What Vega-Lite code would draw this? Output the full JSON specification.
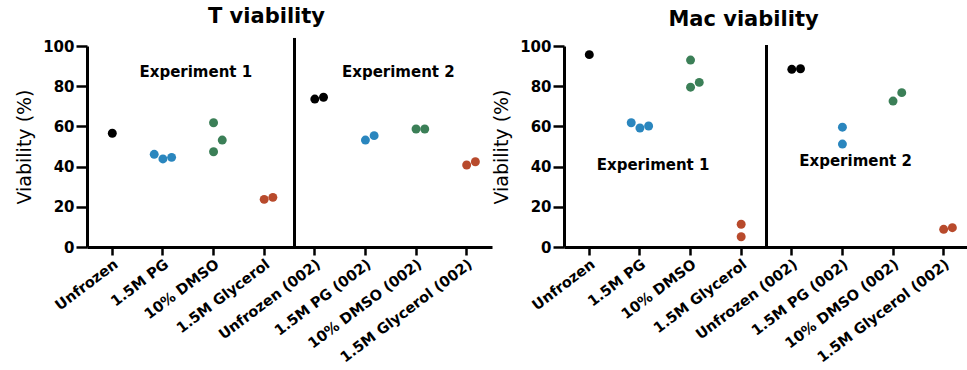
{
  "$schema": "https://vega.github.io/schema/vega-lite/v6.json",
  "background": "white",
  "padding": {"left": 15, "top": 6, "right": 0, "bottom": 0},
  "spacing": 0,
  "datasets": {
    "viability": [
      {"panel": "T", "condition": "Unfrozen", "slot": 0, "viability": 56.6},
      {"panel": "T", "condition": "1.5M PG", "slot": -1, "viability": 46.1},
      {"panel": "T", "condition": "1.5M PG", "slot": 0, "viability": 43.8},
      {"panel": "T", "condition": "1.5M PG", "slot": 1, "viability": 44.6},
      {"panel": "T", "condition": "10% DMSO", "slot": 0, "viability": 61.8},
      {"panel": "T", "condition": "10% DMSO", "slot": 1, "viability": 53.2},
      {"panel": "T", "condition": "10% DMSO", "slot": 0, "viability": 47.4},
      {"panel": "T", "condition": "1.5M Glycerol", "slot": 0, "viability": 23.7},
      {"panel": "T", "condition": "1.5M Glycerol", "slot": 1, "viability": 24.7},
      {"panel": "T", "condition": "Unfrozen (002)", "slot": 0, "viability": 73.6},
      {"panel": "T", "condition": "Unfrozen (002)", "slot": 1, "viability": 74.5},
      {"panel": "T", "condition": "1.5M PG (002)", "slot": 0, "viability": 53.2},
      {"panel": "T", "condition": "1.5M PG (002)", "slot": 1, "viability": 55.4},
      {"panel": "T", "condition": "10% DMSO (002)", "slot": 0, "viability": 58.7},
      {"panel": "T", "condition": "10% DMSO (002)", "slot": 1, "viability": 58.7},
      {"panel": "T", "condition": "1.5M Glycerol (002)", "slot": 0, "viability": 40.8},
      {"panel": "T", "condition": "1.5M Glycerol (002)", "slot": 1, "viability": 42.4},
      {"panel": "Mac", "condition": "Unfrozen", "slot": 0, "viability": 95.7},
      {"panel": "Mac", "condition": "1.5M PG", "slot": -1, "viability": 61.8},
      {"panel": "Mac", "condition": "1.5M PG", "slot": 0, "viability": 59.2},
      {"panel": "Mac", "condition": "1.5M PG", "slot": 1, "viability": 60.2},
      {"panel": "Mac", "condition": "10% DMSO", "slot": 0, "viability": 93.0},
      {"panel": "Mac", "condition": "10% DMSO", "slot": 0, "viability": 79.5},
      {"panel": "Mac", "condition": "10% DMSO", "slot": 1, "viability": 81.9},
      {"panel": "Mac", "condition": "1.5M Glycerol", "slot": 0, "viability": 11.3},
      {"panel": "Mac", "condition": "1.5M Glycerol", "slot": 0, "viability": 5.1},
      {"panel": "Mac", "condition": "Unfrozen (002)", "slot": 0, "viability": 88.4},
      {"panel": "Mac", "condition": "Unfrozen (002)", "slot": 1, "viability": 88.7},
      {"panel": "Mac", "condition": "1.5M PG (002)", "slot": 0, "viability": 59.6},
      {"panel": "Mac", "condition": "1.5M PG (002)", "slot": 0, "viability": 51.2},
      {"panel": "Mac", "condition": "10% DMSO (002)", "slot": 0, "viability": 72.6},
      {"panel": "Mac", "condition": "10% DMSO (002)", "slot": 1, "viability": 76.8},
      {"panel": "Mac", "condition": "1.5M Glycerol (002)", "slot": 0, "viability": 8.8},
      {"panel": "Mac", "condition": "1.5M Glycerol (002)", "slot": 1, "viability": 9.6}
    ],
    "dividers": [
      {"panel": "T", "condition": "Unfrozen (002)", "bottom": 0, "top": 104},
      {"panel": "Mac", "condition": "Unfrozen (002)", "bottom": 0, "top": 100.5}
    ],
    "experiments": [
      {"panel": "T", "condition": "10% DMSO", "y": 87, "label": "Experiment 1"},
      {"panel": "T", "condition": "10% DMSO (002)", "y": 87, "label": "Experiment 2"},
      {"panel": "Mac", "condition": "1.5M PG", "y": 41, "label": "Experiment 1"},
      {"panel": "Mac", "condition": "1.5M PG (002)", "y": 43, "label": "Experiment 2"}
    ]
  },
  "config": {
    "view": {"stroke": null},
    "font": "DejaVu Sans",
    "axis": {
      "grid": false,
      "domainColor": "black",
      "domainWidth": 3,
      "tickColor": "black",
      "tickWidth": 2.5,
      "tickSize": 8,
      "labelColor": "black",
      "labelFont": "DejaVu Sans",
      "labelFontWeight": "bold",
      "labelFontSize": 15,
      "labelPadding": 2,
      "titleColor": "black",
      "titleFont": "DejaVu Sans",
      "titleFontWeight": "normal",
      "titleFontSize": 19
    },
    "title": {
      "font": "DejaVu Sans",
      "fontWeight": "bold",
      "fontSize": 21,
      "color": "black",
      "anchor": "middle",
      "frame": "group",
      "dx": -23,
      "offset": 9
    }
  },
  "hconcat": [
    {
      "width": 405,
      "height": 201,
      "title": "T viability",
      "layer": [
        {
          "data": {"name": "viability"},
          "transform": [{"filter": "datum.panel === 'T'"}],
          "mark": {"type": "circle", "size": 80, "opacity": 1},
          "encoding": {
            "x": {
              "field": "condition", "type": "nominal",
              "scale": {"type": "band", "paddingInner": 0, "paddingOuter": 0,
                "domain": ["Unfrozen", "1.5M PG", "10% DMSO", "1.5M Glycerol", "Unfrozen (002)", "1.5M PG (002)", "10% DMSO (002)", "1.5M Glycerol (002)"]},
              "axis": {"title": null, "labelAngle": -37, "labelAlign": "right", "labelBaseline": "top", "labelFontSize": 14.5}
            },
            "xOffset": {"field": "slot", "type": "quantitative", "scale": {"domain": [-1, 1], "range": [16.6, 34]}},
            "y": {
              "field": "viability", "type": "quantitative",
              "scale": {"domain": [0, 100]},
              "axis": {"title": "Viability (%)", "values": [0, 20, 40, 60, 80, 100], "tickSize": 11, "titlePadding": 8}
            },
            "color": {
              "field": "condition", "type": "nominal", "legend": null,
              "scale": {
                "domain": ["Unfrozen", "1.5M PG", "10% DMSO", "1.5M Glycerol", "Unfrozen (002)", "1.5M PG (002)", "10% DMSO (002)", "1.5M Glycerol (002)"],
                "range": ["#000000", "#2a86be", "#3b7f57", "#b84a2c", "#000000", "#2a86be", "#3b7f57", "#b84a2c"]
              }
            }
          }
        },
        {
          "data": {"name": "dividers"},
          "transform": [{"filter": "datum.panel === 'T'"}],
          "mark": {"type": "rule", "color": "black", "strokeWidth": 3, "xOffset": 5},
          "encoding": {
            "x": {"field": "condition", "type": "nominal", "bandPosition": 0},
            "y": {"field": "bottom", "type": "quantitative"},
            "y2": {"field": "top"}
          }
        },
        {
          "data": {"name": "experiments"},
          "transform": [{"filter": "datum.panel === 'T'"}],
          "mark": {"type": "text", "font": "DejaVu Sans", "fontWeight": "bold", "fontSize": 15, "color": "black", "align": "center", "baseline": "middle"},
          "encoding": {
            "x": {"field": "condition", "type": "nominal", "bandPosition": 0.15},
            "y": {"field": "y", "type": "quantitative"},
            "text": {"field": "label"}
          }
        }
      ]
    },
    {
      "width": 405,
      "height": 201,
      "title": "Mac viability",
      "layer": [
        {
          "data": {"name": "viability"},
          "transform": [{"filter": "datum.panel === 'Mac'"}],
          "mark": {"type": "circle", "size": 80, "opacity": 1},
          "encoding": {
            "x": {
              "field": "condition", "type": "nominal",
              "scale": {"type": "band", "paddingInner": 0, "paddingOuter": 0,
                "domain": ["Unfrozen", "1.5M PG", "10% DMSO", "1.5M Glycerol", "Unfrozen (002)", "1.5M PG (002)", "10% DMSO (002)", "1.5M Glycerol (002)"]},
              "axis": {"title": null, "labelAngle": -37, "labelAlign": "right", "labelBaseline": "top", "labelFontSize": 14.5}
            },
            "xOffset": {"field": "slot", "type": "quantitative", "scale": {"domain": [-1, 1], "range": [16.6, 34]}},
            "y": {
              "field": "viability", "type": "quantitative",
              "scale": {"domain": [0, 100]},
              "axis": {"title": "Viability (%)", "values": [0, 20, 40, 60, 80, 100], "tickSize": 11, "titlePadding": 8}
            },
            "color": {
              "field": "condition", "type": "nominal", "legend": null,
              "scale": {
                "domain": ["Unfrozen", "1.5M PG", "10% DMSO", "1.5M Glycerol", "Unfrozen (002)", "1.5M PG (002)", "10% DMSO (002)", "1.5M Glycerol (002)"],
                "range": ["#000000", "#2a86be", "#3b7f57", "#b84a2c", "#000000", "#2a86be", "#3b7f57", "#b84a2c"]
              }
            }
          }
        },
        {
          "data": {"name": "dividers"},
          "transform": [{"filter": "datum.panel === 'Mac'"}],
          "mark": {"type": "rule", "color": "black", "strokeWidth": 3},
          "encoding": {
            "x": {"field": "condition", "type": "nominal", "bandPosition": 0},
            "y": {"field": "bottom", "type": "quantitative"},
            "y2": {"field": "top"}
          }
        },
        {
          "data": {"name": "experiments"},
          "transform": [{"filter": "datum.panel === 'Mac'"}],
          "mark": {"type": "text", "font": "DejaVu Sans", "fontWeight": "bold", "fontSize": 15, "color": "black", "align": "center", "baseline": "middle"},
          "encoding": {
            "x": {"field": "condition", "type": "nominal", "bandPosition": 0.76},
            "y": {"field": "y", "type": "quantitative"},
            "text": {"field": "label"}
          }
        }
      ]
    }
  ]
}
